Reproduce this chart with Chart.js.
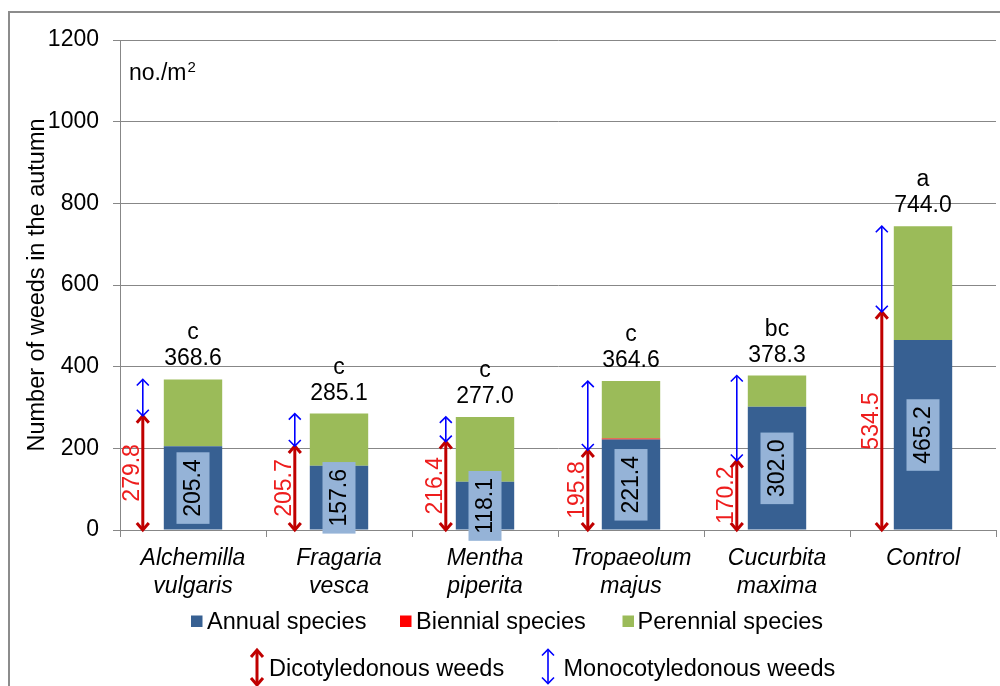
<!DOCTYPE html>
<html>
<head>
<meta charset="utf-8">
<script src="https://cdn.jsdelivr.net/npm/chart.js@4.4.1/dist/chart.umd.min.js"></script>
<style>
  html, body { margin: 0; padding: 0; background: #fff; }
  canvas { display: block; }
</style>
</head>
<body>
<canvas id="weeds" width="1000" height="686"></canvas>
<script>
// ---- data (no./m2, autumn counts) ----
const categories = [['Alchemilla', 'vulgaris'], ['Fragaria', 'vesca'], ['Mentha', 'piperita'],
                    ['Tropaeolum', 'majus'], ['Cucurbita', 'maxima'], ['Control']];
const annualSpecies    = [205.4, 157.6, 118.1, 221.4, 302.0, 465.2];
const biennialSpecies  = [0, 0, 0, 2.5, 0, 0];
const perennialSpecies = [163.2, 127.5, 158.9, 140.7, 76.3, 278.8];
const totalWeeds       = [368.6, 285.1, 277.0, 364.6, 378.3, 744.0];
const dicotWeeds       = [279.8, 205.7, 216.4, 195.8, 170.2, 534.5];
const groupLetters     = ['c', 'c', 'c', 'c', 'bc', 'a'];
const yTicks           = [0, 200, 400, 600, 800, 1000, 1200];

// ---- styling ----
const FONT = '"Liberation Sans", Arial, Helvetica, sans-serif';
const FS = 23;
const FS_LEGEND = 23.5;
const COLORS = {
  annual: '#376092', biennial: '#FF0000', perennial: '#9BBB59',
  labelBox: '#95B3D7', dicot: '#C00000', dicotText: '#EE1D1D', monocot: '#0000FF',
  grid: '#878787', frame: '#8C8C8C'
};
const arrowGapPx = [21, 15, 10, 14, 11, 12];   // space between arrow and bar edge

function doubleArrow(ctx, x, yTop, yBottom, color, lw, hw, hl) {
  ctx.save();
  ctx.strokeStyle = color;
  ctx.lineWidth = lw;
  ctx.lineCap = 'butt';
  ctx.lineJoin = 'miter';
  ctx.beginPath();
  ctx.moveTo(x, yTop + lw * 0.4);
  ctx.lineTo(x, yBottom - lw * 0.4);
  ctx.stroke();
  ctx.beginPath();
  ctx.moveTo(x - hw, yTop + hl);
  ctx.lineTo(x, yTop);
  ctx.lineTo(x + hw, yTop + hl);
  ctx.moveTo(x - hw, yBottom - hl);
  ctx.lineTo(x, yBottom);
  ctx.lineTo(x + hw, yBottom - hl);
  ctx.stroke();
  ctx.restore();
}

function verticalText(ctx, text, cx, cy, color, box) {
  ctx.save();
  ctx.translate(cx, cy);
  ctx.rotate(-Math.PI / 2);
  ctx.font = `${FS}px ${FONT}`;
  if (box) {
    const w = ctx.measureText(text).width + 14;
    const h = 33;
    ctx.fillStyle = box;
    ctx.fillRect(-w / 2, -h / 2, w, h);
  }
  ctx.fillStyle = color;
  ctx.textAlign = 'center';
  ctx.textBaseline = 'middle';
  ctx.fillText(text, 0, 1);
  ctx.restore();
}

const annotations = {
  id: 'annotations',
  beforeDraw(chart) {
    const ctx = chart.ctx;
    ctx.save();
    ctx.fillStyle = '#fff';
    ctx.fillRect(0, 0, chart.width, chart.height);
    ctx.strokeStyle = COLORS.frame;
    ctx.lineWidth = 2;
    ctx.strokeRect(9, 12, chart.width + 40, chart.height + 40);
    ctx.restore();
  },
  afterDatasetsDraw(chart) {
    const ctx = chart.ctx;
    const yScale = chart.scales.y;
    const bars = chart.getDatasetMeta(0).data;
    const y0 = yScale.getPixelForValue(0);

    bars.forEach((bar, i) => {
      const { x, width } = bar.getProps(['x', 'width'], true);
      const ax = x - width / 2 - arrowGapPx[i];
      const yd = yScale.getPixelForValue(dicotWeeds[i]);
      const yt = yScale.getPixelForValue(totalWeeds[i]);

      doubleArrow(ctx, ax, yd, y0, COLORS.dicot, 3, 6, 7);
      doubleArrow(ctx, ax, yt, yd, COLORS.monocot, 1.6, 6, 6);
      verticalText(ctx, dicotWeeds[i].toFixed(1), ax - 11.5, (y0 + yd) / 2, COLORS.dicotText);

      ctx.save();
      ctx.font = `${FS}px ${FONT}`;
      ctx.fillStyle = '#000';
      ctx.textAlign = 'center';
      ctx.textBaseline = 'alphabetic';
      ctx.fillText(totalWeeds[i].toFixed(1), x, yt - 14);
      ctx.fillText(groupLetters[i], x, yt - 40);
      ctx.restore();
    });

    bars.forEach((bar, i) => {
      const { x } = bar.getProps(['x'], true);
      const ym = yScale.getPixelForValue(annualSpecies[i] / 2);
      verticalText(ctx, annualSpecies[i].toFixed(1), x, ym, '#000', COLORS.labelBox);
    });

    // unit note in the upper-left corner of the plot
    const area = chart.chartArea;
    ctx.save();
    ctx.fillStyle = '#000';
    ctx.textBaseline = 'alphabetic';
    ctx.textAlign = 'left';
    ctx.font = `${FS}px ${FONT}`;
    const ux = area.left + 9, uy = area.top + 40;
    ctx.fillText('no./m', ux, uy);
    const uw = ctx.measureText('no./m').width;
    ctx.font = `15px ${FONT}`;
    ctx.fillText('2', ux + uw + 1, uy - 8);
    ctx.restore();
  },
  afterDraw(chart) {
    const ctx = chart.ctx;
    ctx.save();
    ctx.font = `${FS_LEGEND}px ${FONT}`;
    ctx.fillStyle = '#000';
    ctx.textBaseline = 'alphabetic';
    ctx.textAlign = 'left';
    // row 1: series swatches
    const row1 = [
      { color: COLORS.annual, text: 'Annual species', sx: 191, tx: 207 },
      { color: COLORS.biennial, text: 'Biennial species', sx: 400, tx: 416 },
      { color: COLORS.perennial, text: 'Perennial species', sx: 622.5, tx: 637.5 }
    ];
    row1.forEach(it => {
      ctx.fillStyle = it.color;
      ctx.fillRect(it.sx, 615.5, 11.5, 11.5);
      ctx.fillStyle = '#000';
      ctx.fillText(it.text, it.tx, 629);
    });
    // row 2: arrow keys
    doubleArrow(ctx, 257, 650, 685, COLORS.dicot, 3, 6, 7);
    ctx.fillText('Dicotyledonous weeds', 269, 676);
    doubleArrow(ctx, 548, 649.5, 683.5, COLORS.monocot, 1.6, 6, 6);
    ctx.fillText('Monocotyledonous weeds', 563.5, 676);
    ctx.restore();
  }
};

new Chart(document.getElementById('weeds'), {
  type: 'bar',
  data: {
    labels: categories,
    datasets: [
      { label: 'Annual species', data: annualSpecies, backgroundColor: COLORS.annual },
      { label: 'Biennial species', data: biennialSpecies, backgroundColor: COLORS.biennial },
      { label: 'Perennial species', data: perennialSpecies, backgroundColor: COLORS.perennial }
    ]
  },
  options: {
    responsive: false,
    animation: false,
    layout: { padding: { left: 0, right: 4, top: 40, bottom: 0 } },
    datasets: { bar: { categoryPercentage: 1, barPercentage: 0.4, borderWidth: 0 } },
    plugins: { legend: { display: false }, tooltip: { enabled: false } },
    scales: {
      x: {
        stacked: true,
        afterFit(scale) { scale.height = 156; },
        grid: { offset: true, drawOnChartArea: false, drawTicks: true, tickLength: 7, color: COLORS.grid },
        border: { color: COLORS.grid },
        ticks: {
          color: '#000',
          padding: 8,
          maxRotation: 0,
          autoSkip: false,
          font: { family: FONT, size: FS, style: 'italic', lineHeight: 1.2 }
        }
      },
      y: {
        stacked: true,
        min: yTicks[0],
        max: yTicks[yTicks.length - 1],
        afterBuildTicks(scale) { scale.ticks = yTicks.map(v => ({ value: v })); },
        afterFit(scale) { scale.width = 120; },
        grid: { color: COLORS.grid, tickLength: 7 },
        border: { color: COLORS.grid },
        ticks: {
          color: '#000',
          padding: 14,
          font: { family: FONT, size: FS },
          callback: v => String(v)
        },
        title: {
          display: true,
          text: 'Number of weeds in the autumn',
          color: '#000',
          padding: { top: 23, bottom: 0 },
          font: { family: FONT, size: 23.5 }
        }
      }
    }
  },
  plugins: [annotations]
});
</script>
</body>
</html>
